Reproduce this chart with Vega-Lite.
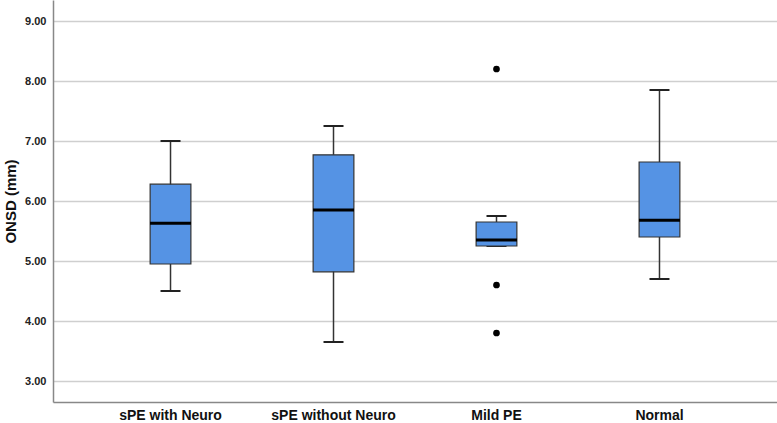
{
  "$schema": "https://vega.github.io/schema/vega-lite/v6.json",
  "width": 724,
  "height": 402,
  "autosize": "none",
  "padding": {"left": 53, "top": 0, "right": 0, "bottom": 21},
  "background": "white",
  "config": {
    "view": {"stroke": null},
    "font": "Liberation Sans"
  },
  "datasets": {
    "stats": [
      {"group": "sPE with Neuro", "lower": 4.50, "q1": 4.95, "median": 5.63, "q3": 6.28, "upper": 7.00},
      {"group": "sPE without Neuro", "lower": 3.65, "q1": 4.82, "median": 5.85, "q3": 6.77, "upper": 7.25},
      {"group": "Mild PE", "lower": 5.25, "q1": 5.25, "median": 5.35, "q3": 5.65, "upper": 5.75},
      {"group": "Normal", "lower": 4.70, "q1": 5.40, "median": 5.68, "q3": 6.65, "upper": 7.85}
    ],
    "outliers": [
      {"group": "Mild PE", "value": 8.20},
      {"group": "Mild PE", "value": 4.60},
      {"group": "Mild PE", "value": 3.80}
    ]
  },
  "encoding": {
    "x": {
      "field": "group",
      "type": "nominal",
      "sort": ["sPE with Neuro", "sPE without Neuro", "Mild PE", "Normal"],
      "scale": {"domain": ["sPE with Neuro", "sPE without Neuro", "Mild PE", "Normal"], "paddingInner": 0.75, "paddingOuter": 0.596},
      "axis": {
        "title": null,
        "labelAngle": 0,
        "ticks": false,
        "labelFontSize": 14,
        "labelFontWeight": "bold",
        "labelColor": "#111",
        "labelPadding": 6,
        "domainColor": "#888",
        "domainWidth": 1.5
      }
    }
  },
  "layer": [
    {
      "data": {"name": "stats"},
      "mark": {"type": "rule", "color": "#333", "strokeWidth": 1.5},
      "encoding": {
        "y": {
          "field": "lower",
          "type": "quantitative",
          "scale": {"domain": [2.65, 9.35], "nice": false, "zero": false},
          "axis": {
            "title": "ONSD (mm)",
            "titleFontSize": 15,
            "titleFontWeight": "bold",
            "titleColor": "#111",
            "titlePadding": 6,
            "values": [3, 4, 5, 6, 7, 8, 9],
            "format": ".2f",
            "labelFontSize": 11,
            "labelFontWeight": "bold",
            "labelColor": "#222",
            "labelPadding": 7,
            "ticks": false,
            "grid": true,
            "gridColor": "#cfcfcf",
            "gridWidth": 1.5,
            "domainColor": "#888",
            "domainWidth": 1.5
          }
        },
        "y2": {"field": "upper"}
      }
    },
    {
      "data": {"name": "stats"},
      "mark": {"type": "tick", "color": "#222", "size": 20, "thickness": 2, "opacity": 1},
      "encoding": {"y": {"field": "upper", "type": "quantitative"}}
    },
    {
      "data": {"name": "stats"},
      "mark": {"type": "tick", "color": "#222", "size": 20, "thickness": 2, "opacity": 1},
      "encoding": {"y": {"field": "lower", "type": "quantitative"}}
    },
    {
      "data": {"name": "stats"},
      "mark": {"type": "bar", "fill": "#5593E4", "stroke": "#333", "strokeWidth": 1.2, "opacity": 1},
      "encoding": {
        "y": {"field": "q1", "type": "quantitative"},
        "y2": {"field": "q3"}
      }
    },
    {
      "data": {"name": "stats"},
      "mark": {"type": "tick", "color": "#000", "size": 41, "thickness": 3, "opacity": 1},
      "encoding": {"y": {"field": "median", "type": "quantitative"}}
    },
    {
      "data": {"name": "outliers"},
      "mark": {"type": "point", "filled": true, "color": "#000", "size": 45, "opacity": 1},
      "encoding": {"y": {"field": "value", "type": "quantitative"}}
    }
  ]
}
